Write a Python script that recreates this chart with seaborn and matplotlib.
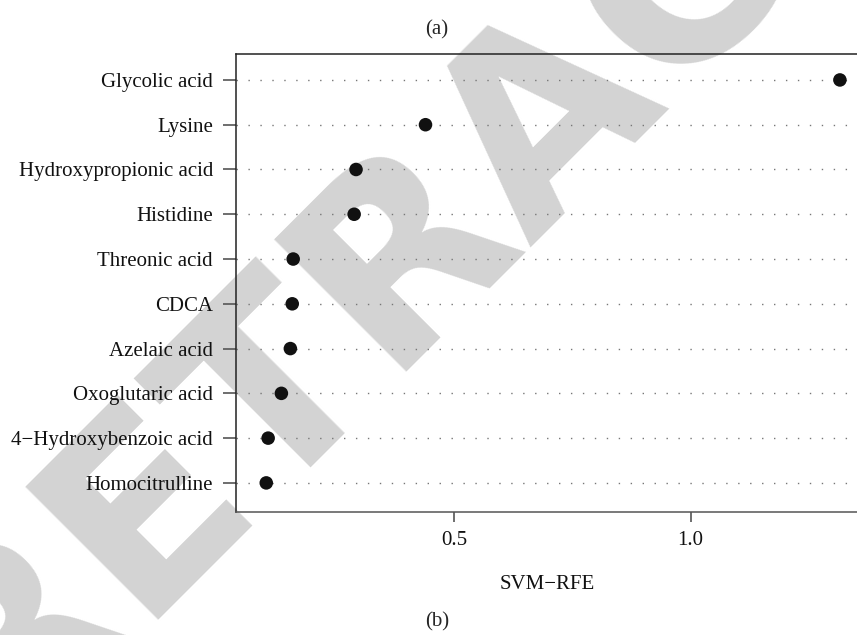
import matplotlib
matplotlib.use("Agg")
import matplotlib.pyplot as plt
import seaborn as sns
import pandas as pd

features = ["Glycolic acid", "Lysine", "Hydroxypropionic acid", "Histidine",
            "Threonic acid", "CDCA", "Azelaic acid", "Oxoglutaric acid",
            "4\u2212Hydroxybenzoic acid", "Homocitrulline"]
scores = [1.316, 0.439, 0.292, 0.288, 0.159, 0.157, 0.153, 0.134, 0.106, 0.102]
xticks = [0.5, 1.0]
xtick_labels = ["0.5", "1.0"]

sns.set_theme(style="white")
plt.rcParams['font.family'] = ['Liberation Serif', 'DejaVu Serif']

df = pd.DataFrame({"feature": features, "score": scores})

fig = plt.figure(figsize=(8.57, 6.35), dpi=100)
fig.patch.set_facecolor("white")
ax = fig.add_axes([0.2754, 0.1937, 0.7256, 0.7213])
ax.set_facecolor("none")

# watermark (behind everything)
fig.text(0.637, 0.83, "RETRACTED", fontsize=185, fontweight="bold",
         family="DejaVu Sans", color="#d3d3d3", rotation=45,
         ha="center", va="center", zorder=-1)

for i in range(len(features)):
    ax.axhline(i, color="#777777", lw=1.0, ls=(0, (1, 7.6)), zorder=1)

sns.scatterplot(data=df, x="score", y="feature", ax=ax, color="#111111",
                s=95, edgecolor="none", zorder=3, legend=False)

ax.set_ylim(len(features) - 1 + 0.65, -0.58)
ax.set_xlim(0.038, 1.354)
ax.set_xticks(xticks)
ax.set_xticklabels(xtick_labels)
ax.set_xlabel("SVM\u2212RFE", fontsize=15, labelpad=18, color="#111111")
ax.set_ylabel("")
ax.tick_params(axis="y", direction="out", length=9.5, width=1.2,
               color="#555555", labelsize=15, labelcolor="#111111",
               left=True, pad=7)
ax.tick_params(axis="x", direction="out", length=7.5, width=1.2,
               color="#555555", labelsize=15, labelcolor="#111111",
               bottom=True, pad=6)
for sp in ax.spines.values():
    sp.set_color("#222222")
    sp.set_linewidth(1.1)
ax.spines["right"].set_visible(False)
ax.spines["bottom"].set_color("#555555")

fig.text(0.51, 0.953, "(a)", ha="center", va="center", fontsize=15)
fig.text(0.51, 0.021, "(b)", ha="center", va="center", fontsize=15)

fig.savefig("out.png", dpi=100)
